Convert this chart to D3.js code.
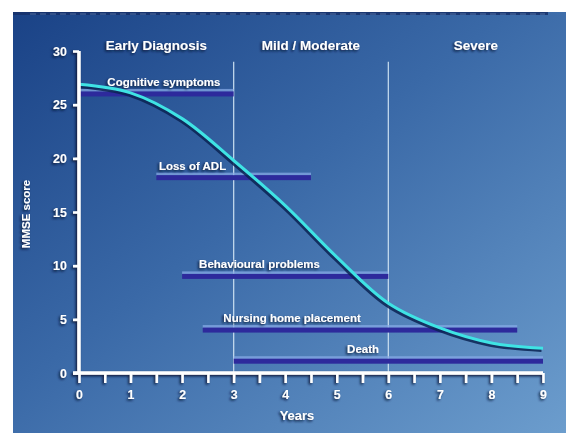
<!DOCTYPE html>
<html>
<head>
<meta charset="utf-8">
<script src="https://cdn.jsdelivr.net/npm/d3@7"></script>
<style>
  html, body { margin: 0; padding: 0; background: #ffffff; }
  svg { display: block; }
  text { font-family: "Liberation Sans Narrow", "Liberation Sans", Arial, sans-serif; font-weight: bold; }
</style>
</head>
<body>
<svg id="chart" width="566" height="434"></svg>
<script>
// ---- data ----
const years = [0, 1, 2, 3, 4, 5, 6, 7, 8, 9];
const mmse = [26.9, 26.1, 23.7, 19.8, 15.6, 10.8, 6.5, 4.2, 2.8, 2.3];

const eventNames = ["Cognitive symptoms", "Loss of ADL", "Behavioural problems", "Nursing home placement", "Death"];
const eventStart = [0, 1.5, 2, 2.4, 3];
const eventEnd = [3, 4.5, 6, 8.5, 9];
const eventScore = [26.0, 18.2, 9.0, 4.0, 1.1];
const eventLabelYear = [0.55, 1.55, 2.33, 2.8, 5.2];

const phaseNames = ["Early Diagnosis", "Mild / Moderate", "Severe"];
const phaseCenters = [1.5, 4.5, 7.7];
const phaseBounds = [3, 6];

const xTicks = d3.range(0, 9.01, 0.5);
const yTicks = [0, 5, 10, 15, 20, 25, 30];
const xTitle = "Years";
const yTitle = "MMSE score";

// ---- layout ----
const W = 566, H = 434;
const FONT = "'Liberation Sans Narrow', 'Liberation Sans', Arial, sans-serif";
const svg = d3.select("#chart");
const defs = svg.append("defs");

const grad = defs.append("linearGradient").attr("id", "bg")
  .attr("x1", "0").attr("y1", "0").attr("x2", "1").attr("y2", "1");
grad.append("stop").attr("offset", "0%").attr("stop-color", "#1a4286");
grad.append("stop").attr("offset", "45%").attr("stop-color", "#3a69a7");
grad.append("stop").attr("offset", "100%").attr("stop-color", "#6c9dcd");

const sh = defs.append("filter").attr("id", "shadow")
  .attr("x", "-20%").attr("y", "-20%").attr("width", "140%").attr("height", "140%");
sh.append("feDropShadow").attr("dx", -1.5).attr("dy", 1.5).attr("stdDeviation", 0.8)
  .attr("flood-color", "#071536").attr("flood-opacity", 0.95);

// background
svg.append("rect").attr("x", 13).attr("y", 12).attr("width", W - 13).attr("height", H - 13)
  .attr("fill", "url(#bg)");
svg.append("rect").attr("x", 13).attr("y", 12).attr("width", 535).attr("height", 3)
  .attr("fill", "#16306a").attr("opacity", 0.85);
svg.append("line").attr("x1", 30).attr("x2", 545).attr("y1", 14).attr("y2", 14)
  .attr("stroke", "#8fb2de").attr("stroke-width", 0.8).attr("stroke-dasharray", "6,4").attr("opacity", 0.6);

const x = d3.scaleLinear().domain([0, 9]).range([79, 543]);
const y = d3.scaleLinear().domain([0, 30]).range([373, 51]);

// phase boundaries
svg.append("g").selectAll("line").data(phaseBounds).join("line")
  .attr("x1", d => x(d)).attr("x2", d => x(d))
  .attr("y1", y(29)).attr("y2", y(0))
  .attr("stroke", "#cfe3f3").attr("stroke-width", 1.3).attr("opacity", 0.9);

// phase titles
svg.append("g").attr("filter", "url(#shadow)").selectAll("text").data(phaseNames).join("text")
  .attr("x", (d, i) => x(phaseCenters[i])).attr("y", 50)
  .attr("text-anchor", "middle").attr("fill", "#ffffff").attr("font-size", 13.5)
  .text(d => d);

// event bars
const ev = eventNames.map((n, i) => ({ n, s: eventStart[i], e: eventEnd[i], v: eventScore[i], lx: eventLabelYear[i] }));
const evG = svg.append("g");
evG.selectAll("rect.hi").data(ev).join("rect").attr("class", "hi")
  .attr("x", d => x(d.s)).attr("width", d => x(d.e) - x(d.s))
  .attr("y", d => y(d.v) - 5).attr("height", 3)
  .attr("fill", "#86a9e6").attr("opacity", 0.75);
evG.selectAll("rect.bar").data(ev).join("rect").attr("class", "bar")
  .attr("x", d => x(d.s)).attr("width", d => x(d.e) - x(d.s))
  .attr("y", d => y(d.v) - 2.5).attr("height", 5)
  .attr("fill", "#2d2a9c");
svg.append("g").attr("filter", "url(#shadow)").selectAll("text").data(ev).join("text")
  .attr("x", d => x(d.lx)).attr("y", d => y(d.v) - 8)
  .attr("fill", "#ffffff").attr("font-size", 11.5)
  .text(d => d.n);

// curve
const pts = years.map((t, i) => [t, mmse[i]]);
const line = d3.line().x(d => x(d[0])).y(d => y(d[1])).curve(d3.curveCatmullRom.alpha(0.5));
svg.append("path").datum(pts).attr("d", line)
  .attr("fill", "none").attr("stroke", "#0b2352").attr("stroke-width", 3.5)
  .attr("transform", "translate(-1.5,2)").attr("opacity", 0.85);
svg.append("path").datum(pts).attr("d", line)
  .attr("fill", "none").attr("stroke", "#3fe3e4").attr("stroke-width", 3);

// axes
const axG = svg.append("g").attr("filter", "url(#shadow)");
const xAxis = d3.axisBottom(x).tickValues(xTicks).tickSize(10).tickPadding(7)
  .tickFormat(d => Number.isInteger(d) ? d : "");
const gx = axG.append("g").attr("transform", `translate(0,${y(0)})`).call(xAxis);
gx.select(".domain").attr("stroke", "#ffffff").attr("stroke-width", 3.5)
  .attr("d", `M${x(0) - 6},0H${x(9)}`);
gx.selectAll(".tick line").attr("stroke", "#ffffff").attr("stroke-width", 2.5);
gx.selectAll(".tick text").attr("fill", "#ffffff").attr("font-size", 12.5)
  .style("font-family", FONT).style("font-weight", "bold");

const yAxis = d3.axisLeft(y).tickValues(yTicks).tickSize(6).tickPadding(6);
const gy = axG.append("g").attr("transform", `translate(${x(0)},0)`).call(yAxis);
gy.select(".domain").attr("stroke", "#ffffff").attr("stroke-width", 3.5)
  .attr("d", `M0,${y(30)}V${y(0)}`);
gy.selectAll(".tick line").attr("stroke", "#ffffff").attr("stroke-width", 2.5);
gy.selectAll(".tick text").attr("fill", "#ffffff").attr("font-size", 12.5)
  .style("font-family", FONT).style("font-weight", "bold");

// axis titles
axG.append("text").attr("x", 297).attr("y", 420).attr("text-anchor", "middle")
  .attr("fill", "#ffffff").attr("font-size", 13).text(xTitle);
axG.append("text").attr("transform", `translate(30,214) rotate(-90)`).attr("text-anchor", "middle")
  .attr("fill", "#ffffff").attr("font-size", 11.5).text(yTitle);
</script>
</body>
</html>
